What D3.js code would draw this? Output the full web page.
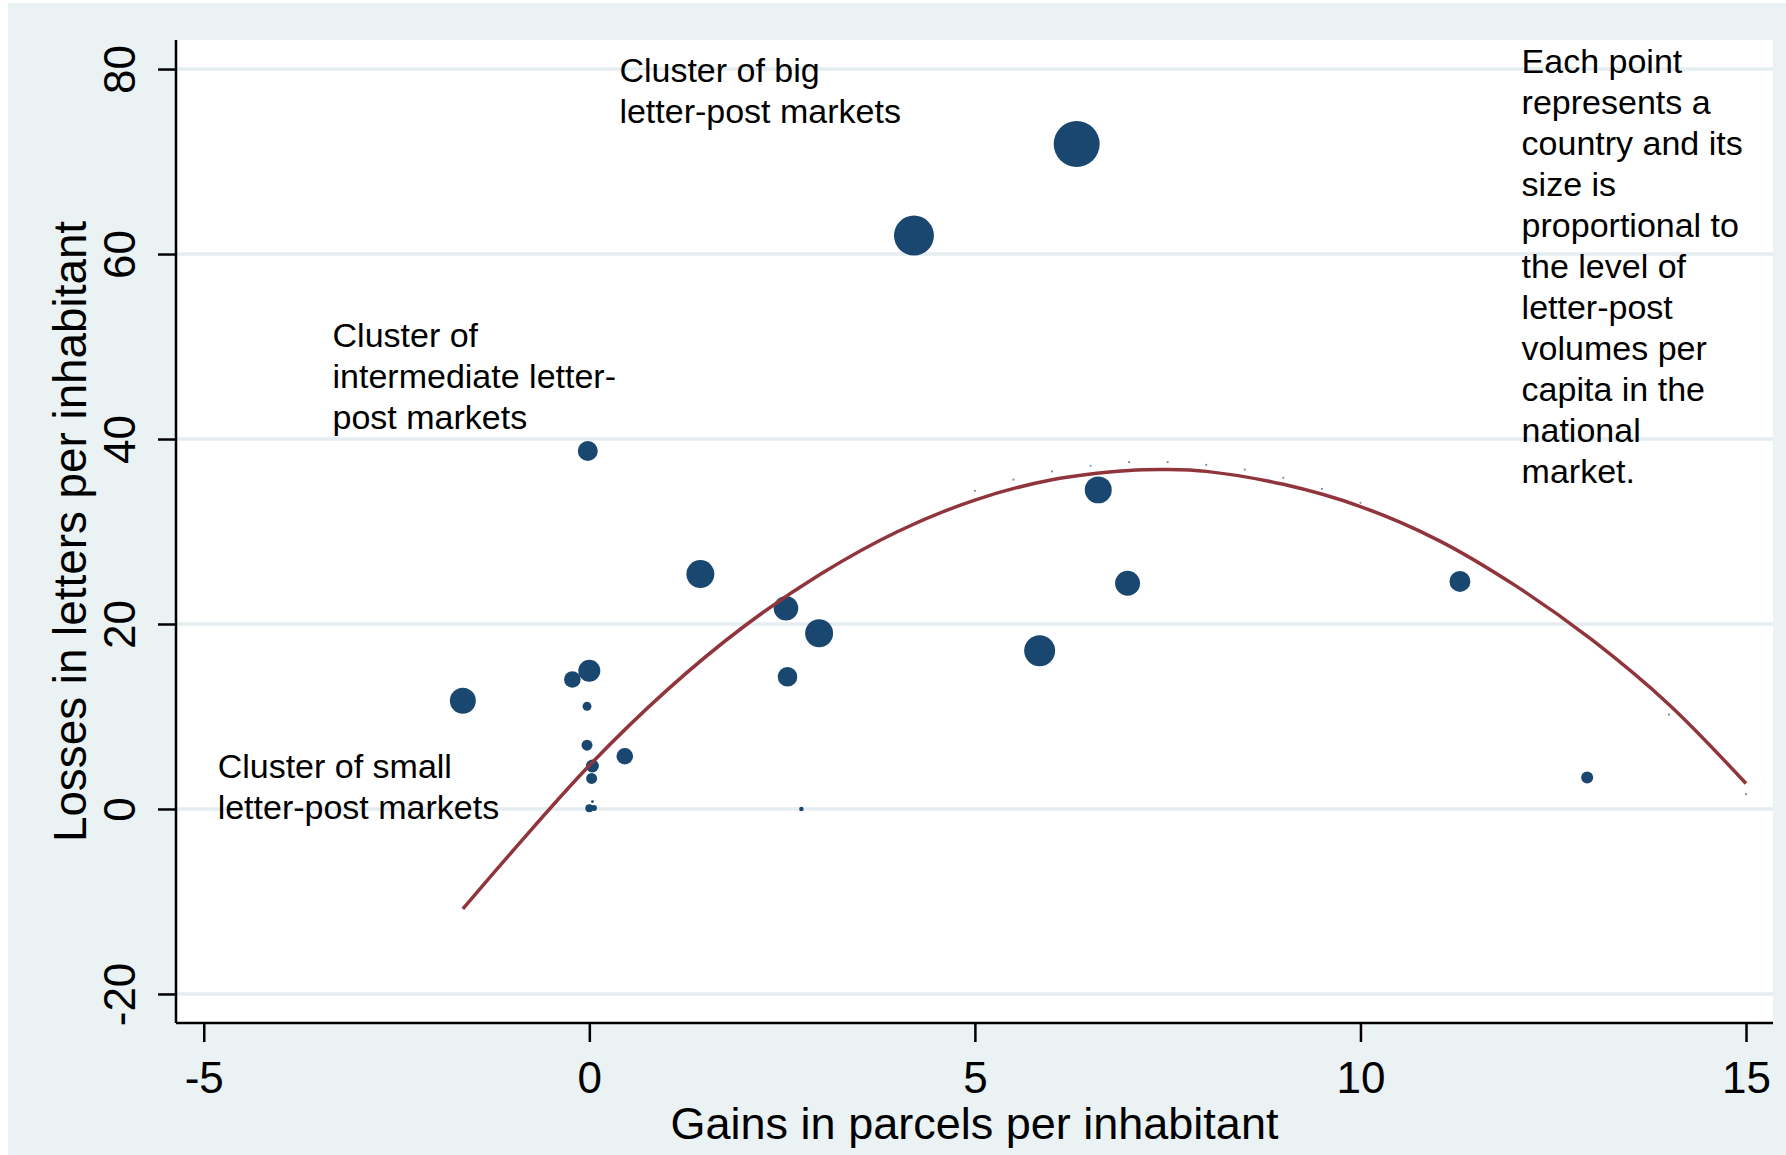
<!DOCTYPE html>
<html>
<head>
<meta charset="utf-8">
<script src="https://cdn.jsdelivr.net/npm/d3@7"></script>
<style>
  html, body { margin: 0; padding: 0; background: #ffffff; }
  svg { display: block; }
  text { font-family: "Liberation Sans", Arial, sans-serif; fill: #000; }
</style>
</head>
<body>
<script>
// ---------------- data ----------------
const gains   = [6.32, 4.21, -0.02, 6.60, 1.44, 6.98, 11.29, 2.55, 2.98, 5.84, 2.57, 0.00, -0.22, -1.64, -0.03, -0.03, 0.46, 0.04, 0.03, 0.00, 0.06, 0.04, 2.75, 12.94];
const losses  = [71.9, 62.0, 38.7, 34.5, 25.4, 24.4, 24.6, 21.7, 19.0, 17.1, 14.3, 14.95, 14.0, 11.7, 11.1, 6.9, 5.7, 4.65, 3.3, 0.07, 0.1, 0.8, 0.0, 3.4];
const volumes = [530, 400, 100, 182, 196, 156, 110, 151, 196, 240, 96, 121, 69, 169, 20, 30, 69, 42, 30, 16, 9, 2, 5, 36];

// fitted (quadratic) line
const fitX = [-1.64, -1, 0, 1, 2, 3, 4, 5, 6, 7, 7.5, 8, 9, 10, 11, 12, 13, 14, 15];
const fitY = [-10.8, -4.6, 4.7, 12.8, 19.7, 25.4, 30.0, 33.4, 35.6, 36.6, 36.7, 36.5, 35.1, 32.7, 29.1, 24.2, 18.3, 11.3, 2.75];

// tiny specks visible just above the fit line
const speckX = [5, 5.5, 6, 6.5, 7, 7.5, 8, 8.5, 9, 9.5, 10, 14, 15];
const speckY = [34.4, 35.6, 36.5, 37.1, 37.5, 37.5, 37.2, 36.7, 35.8, 34.6, 33.1, 10.2, 1.6];

const xTicks = [-5, 0, 5, 10, 15];
const yTicks = [-20, 0, 20, 40, 60, 80];

const xTitle = "Gains in parcels per inhabitant";
const yTitle = "Losses in letters per inhabitant";

const notes = [
  { x: 0.39,  y: 78.6, lines: ["Cluster of big", "letter-post markets"] },
  { x: -3.33, y: 50.0, lines: ["Cluster of", "intermediate letter-", "post markets"] },
  { x: -4.82, y: 3.35, lines: ["Cluster of small", "letter-post markets"] },
  { x: 12.09, y: 79.6, lines: ["Each point", "represents a", "country and its", "size is", "proportional to", "the level of", "letter-post", "volumes per", "capita in the", "national", "market."] }
];

// ---------------- layout ----------------
const W = 1786, H = 1155;
const plot = { left: 176, right: 1773, top: 40, bottom: 1023 };
const bg = "#EAF2F3";
const navy = "#1A476F";
const maroon = "#90353B";

const svg = d3.select("body").append("svg").attr("width", W).attr("height", H);

// outer graph region
svg.append("rect").attr("x", 0).attr("y", 0).attr("width", W).attr("height", H).attr("fill", "#ffffff");
svg.append("rect").attr("x", 8).attr("y", 3).attr("width", W - 8).attr("height", H - 3).attr("fill", bg);
// plot region
svg.append("rect").attr("x", plot.left).attr("y", plot.top)
  .attr("width", plot.right - plot.left).attr("height", plot.bottom - plot.top).attr("fill", "#ffffff");

const x = d3.scaleLinear().domain([-5.36, 15.35]).range([plot.left, plot.right]);
const y = d3.scaleLinear().domain([-23.14, 83.14]).range([plot.bottom, plot.top]);
const r = d3.scaleSqrt().domain([0, 530]).range([0, 23]);

// gridlines
svg.append("g").selectAll("line").data(yTicks).join("line")
  .attr("x1", plot.left).attr("x2", plot.right)
  .attr("y1", d => y(d)).attr("y2", d => y(d))
  .attr("stroke", "#E4EDEF").attr("stroke-width", 3.5);

const fmt = d => String(d);

// axes
const xAxis = d3.axisBottom(x).tickValues(xTicks).tickSize(19).tickPadding(8).tickFormat(fmt);
const gx = svg.append("g").attr("transform", `translate(0,${plot.bottom})`).call(xAxis);
gx.select(".domain").attr("d", `M${plot.left},0H${plot.right}`).attr("stroke", "#000").attr("stroke-width", 2.5);
gx.selectAll(".tick line").attr("stroke", "#000").attr("stroke-width", 2.5);
gx.selectAll(".tick text").attr("font-size", 44).attr("font-family", "Liberation Sans, Arial, sans-serif")
  .attr("fill", "#000").attr("y", 70).attr("dy", 0);

const yAxis = d3.axisLeft(y).tickValues(yTicks).tickSize(18).tickFormat(fmt);
const gy = svg.append("g").attr("transform", `translate(${plot.left},0)`).call(yAxis);
gy.select(".domain").attr("d", `M0,${plot.top}V${plot.bottom}`).attr("stroke", "#000").attr("stroke-width", 2.5);
gy.selectAll(".tick line").attr("stroke", "#000").attr("stroke-width", 2.5);
gy.selectAll(".tick text")
  .attr("font-size", 44).attr("font-family", "Liberation Sans, Arial, sans-serif").attr("fill", "#000")
  .attr("x", null).attr("dy", null)
  .attr("text-anchor", "middle")
  .attr("transform", "translate(-41,0) rotate(-90)")
  .attr("y", 0);

// axis titles
svg.append("text").attr("x", (plot.left + plot.right) / 2).attr("y", 1139)
  .attr("text-anchor", "middle").attr("font-size", 45).text(xTitle);
svg.append("text").attr("transform", `translate(86,${(plot.top + plot.bottom) / 2}) rotate(-90)`)
  .attr("text-anchor", "middle").attr("font-size", 45.8).text(yTitle);

// points
const pts = gains.map((g, i) => ({ g, l: losses[i], v: volumes[i] }));
svg.append("g").selectAll("circle").data(pts).join("circle")
  .attr("cx", d => x(d.g)).attr("cy", d => y(d.l)).attr("r", d => r(d.v))
  .attr("fill", navy);

// specks
svg.append("g").selectAll("circle").data(speckX.map((s, i) => [s, speckY[i]])).join("circle")
  .attr("cx", d => x(d[0])).attr("cy", d => y(d[1])).attr("r", 1.1)
  .attr("fill", navy).attr("opacity", 0.6);

// fit line
const fit = fitX.map((v, i) => [v, fitY[i]]);
svg.append("path").datum(fit)
  .attr("d", d3.line().x(d => x(d[0])).y(d => y(d[1])).curve(d3.curveCatmullRom))
  .attr("fill", "none").attr("stroke", maroon).attr("stroke-width", 3.5);

// annotations
const lh = 41;
notes.forEach(n => {
  const t = svg.append("text").attr("x", x(n.x)).attr("y", y(n.y)).attr("font-size", 34);
  n.lines.forEach((s, i) => {
    t.append("tspan").attr("x", x(n.x)).attr("y", y(n.y) + i * lh).text(s);
  });
});
</script>
</body>
</html>
